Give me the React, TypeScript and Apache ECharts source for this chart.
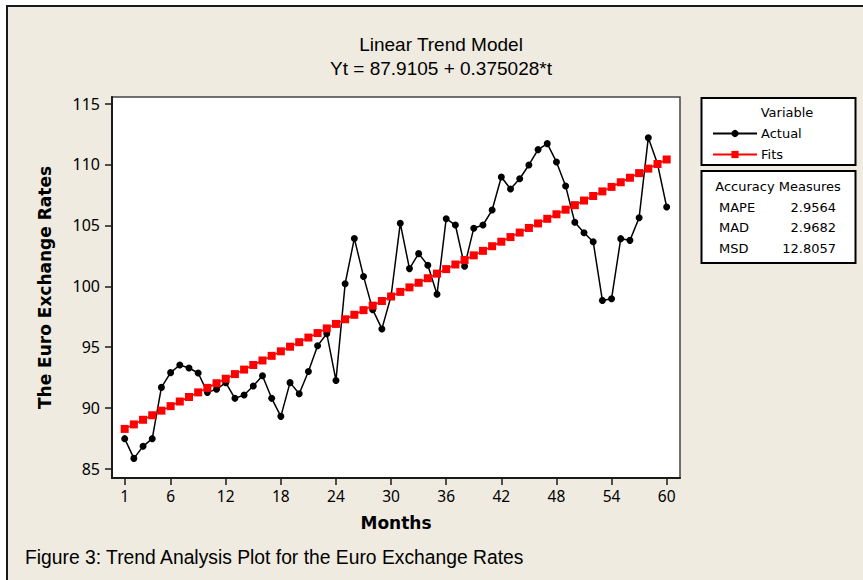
import React, { useEffect, useRef } from "react";
import * as echarts from "echarts";

const actualValues = [
  87.49, 85.87, 86.86, 87.49, 91.7, 92.91, 93.54, 93.29, 92.88, 91.29,
  91.54, 92.09, 90.8, 91.07, 91.81, 92.66, 90.8, 89.32, 92.09, 91.18,
  93.01, 95.12, 96.11, 92.27, 100.21, 103.93, 100.81, 98.08, 96.5, 99.2,
  105.17, 101.45, 102.68, 101.72, 99.34, 105.55, 105.03, 101.65, 104.77, 105.03,
  106.26, 108.97, 107.99, 108.83, 109.96, 111.22, 111.71, 110.21, 108.23, 105.25,
  104.4, 103.66, 98.84, 98.98, 103.91, 103.77, 105.63, 112.2, 110.05, 106.51,
];

const fitsValues = [
  88.29, 88.66, 89.04, 89.41, 89.79, 90.16, 90.54, 90.91, 91.29, 91.66,
  92.04, 92.41, 92.79, 93.16, 93.54, 93.91, 94.29, 94.66, 95.04, 95.41,
  95.79, 96.16, 96.54, 96.91, 97.29, 97.66, 98.04, 98.41, 98.79, 99.16,
  99.54, 99.91, 100.29, 100.66, 101.04, 101.41, 101.79, 102.16, 102.54, 102.91,
  103.29, 103.66, 104.04, 104.41, 104.79, 105.16, 105.54, 105.91, 106.29, 106.66,
  107.04, 107.41, 107.79, 108.16, 108.54, 108.91, 109.29, 109.66, 110.04, 110.41,
];

const xTickValues = [1, 6, 12, 18, 24, 30, 36, 42, 48, 54, 60];
const yTickValues = [85, 90, 95, 100, 105, 110, 115];

const accuracyLabels = ["MAPE", "MAD", "MSD"];
const accuracyValues = ["2.9564", "2.9682", "12.8057"];

const titleLines = ["Linear Trend Model", "Yt = 87.9105 + 0.375028*t"];
const captionText = "Figure 3: Trend Analysis Plot for the Euro Exchange Rates";

const BEIGE = "#EFEBE1";
const NARROW = "Liberation Sans";
const TAHOMA = "DejaVu Sans";
const TICKFONT = "Noto Sans";

export default function App() {
  const ref = useRef<HTMLDivElement>(null);

  useEffect(() => {
    if (!ref.current) return;
    const chart = echarts.init(ref.current, null, { renderer: "svg" });

    const actualData = actualValues.map((v, i) => [i + 1, v]);
    const fitsData = fitsValues.map((v, i) => [i + 1, v]);

    const accuracyGraphics: any[] = [];
    accuracyLabels.forEach((lab, i) => {
      accuracyGraphics.push({
        type: "text",
        x: 719,
        y: 207 + i * 20.5,
        z: 10,
        style: { text: lab, fontFamily: TAHOMA, fontSize: 13, fill: "#000", textVerticalAlign: "middle" },
      });
      accuracyGraphics.push({
        type: "text",
        x: 836,
        y: 207 + i * 20.5,
        z: 10,
        style: { text: accuracyValues[i], fontFamily: TAHOMA, fontSize: 13, fill: "#000", textAlign: "right", textVerticalAlign: "middle" },
      });
    });

    chart.setOption({
      animation: false,
      backgroundColor: "#ffffff",
      textStyle: { fontFamily: TAHOMA },
      graphic: [
        {
          type: "rect",
          z: -100,
          shape: { x: 7, y: 6, width: 900, height: 600 },
          style: { fill: BEIGE, stroke: "#1a1a1a", lineWidth: 2 },
        },
        {
          type: "text",
          x: 441,
          y: 44,
          style: { text: titleLines[0], fontFamily: NARROW, fontSize: 19, fill: "#000", textAlign: "center", textVerticalAlign: "middle" },
        },
        {
          type: "text",
          x: 441,
          y: 68,
          style: { text: titleLines[1], fontFamily: NARROW, fontSize: 19, fill: "#000", textAlign: "center", textVerticalAlign: "middle" },
        },
        {
          type: "text",
          x: 25,
          y: 557,
          style: { text: captionText, fontFamily: NARROW, fontSize: 19.3, fill: "#000", textVerticalAlign: "middle" },
        },
        {
          type: "rect",
          z: 1,
          shape: { x: 701.5, y: 98, width: 154, height: 67 },
          style: { fill: "#fff", stroke: "#000", lineWidth: 2 },
        },
        {
          type: "text",
          x: 787,
          y: 112,
          z: 10,
          style: { text: "Variable", fontFamily: TAHOMA, fontSize: 13, fill: "#000", textAlign: "center", textVerticalAlign: "middle" },
        },
        {
          type: "rect",
          z: 1,
          shape: { x: 701.5, y: 171, width: 154, height: 92 },
          style: { fill: "#fff", stroke: "#000", lineWidth: 2 },
        },
        {
          type: "text",
          x: 778,
          y: 186.5,
          z: 10,
          style: { text: "Accuracy Measures", fontFamily: TAHOMA, fontSize: 13, fill: "#000", textAlign: "center", textVerticalAlign: "middle" },
        },
        ...accuracyGraphics,
      ],
      legend: {
        orient: "vertical",
        left: 707,
        top: 122,
        itemWidth: 44,
        itemHeight: 9,
        itemGap: 8,
        z: 20,
        textStyle: { fontFamily: TAHOMA, fontSize: 13, color: "#000", padding: [0, 0, 0, -1] },
        data: ["Actual", "Fits"],
      },
      grid: {
        left: 112,
        top: 97,
        width: 568,
        height: 381,
        show: true,
        backgroundColor: "#ffffff",
        borderColor: "#444",
        borderWidth: 1.5,
      },
      xAxis: {
        type: "value",
        min: -0.38,
        max: 61.45,
        name: "Months",
        nameLocation: "middle",
        nameGap: 36,
        nameTextStyle: { fontFamily: TAHOMA, fontSize: 17, fontWeight: "bold", color: "#000" },
        axisLine: { show: true, onZero: false, lineStyle: { color: "#1a1a1a", width: 2 } },
        axisTick: { show: true, length: 7, customValues: xTickValues, lineStyle: { color: "#1a1a1a", width: 1.5 } },
        axisLabel: { customValues: xTickValues, fontFamily: TICKFONT, fontSize: 15.5, color: "#000", margin: 10 },
        splitLine: { show: false },
      },
      yAxis: {
        type: "value",
        min: 84.26,
        max: 115.54,
        name: "The Euro Exchange Rates",
        nameLocation: "middle",
        nameGap: 59,
        nameRotate: 90,
        nameTextStyle: { fontFamily: TAHOMA, fontSize: 17, fontWeight: "bold", color: "#000" },
        axisLine: { show: true, onZero: false, lineStyle: { color: "#1a1a1a", width: 2 } },
        axisTick: { show: true, length: 7, customValues: yTickValues, lineStyle: { color: "#1a1a1a", width: 1.5 } },
        axisLabel: { customValues: yTickValues, fontFamily: TICKFONT, fontSize: 16, color: "#000", margin: 12 },
        splitLine: { show: false },
      },
      series: [
        {
          name: "Actual",
          type: "line",
          data: actualData,
          symbol: "circle",
          symbolSize: 7,
          showAllSymbol: true,
          z: 3,
          itemStyle: { color: "#000" },
          lineStyle: { color: "#000", width: 1.5 },
        },
        {
          name: "Fits",
          type: "line",
          data: fitsData,
          symbol: "rect",
          symbolSize: 8,
          showAllSymbol: true,
          z: 4,
          itemStyle: { color: "#ff0000" },
          lineStyle: { color: "#ff0000", width: 1.5 },
        },
      ],
    });

    return () => chart.dispose();
  }, []);

  return (
    <div
      ref={ref}
      style={{ position: "fixed", left: 0, top: 0, width: 863, height: 580 }}
    />
  );
}
